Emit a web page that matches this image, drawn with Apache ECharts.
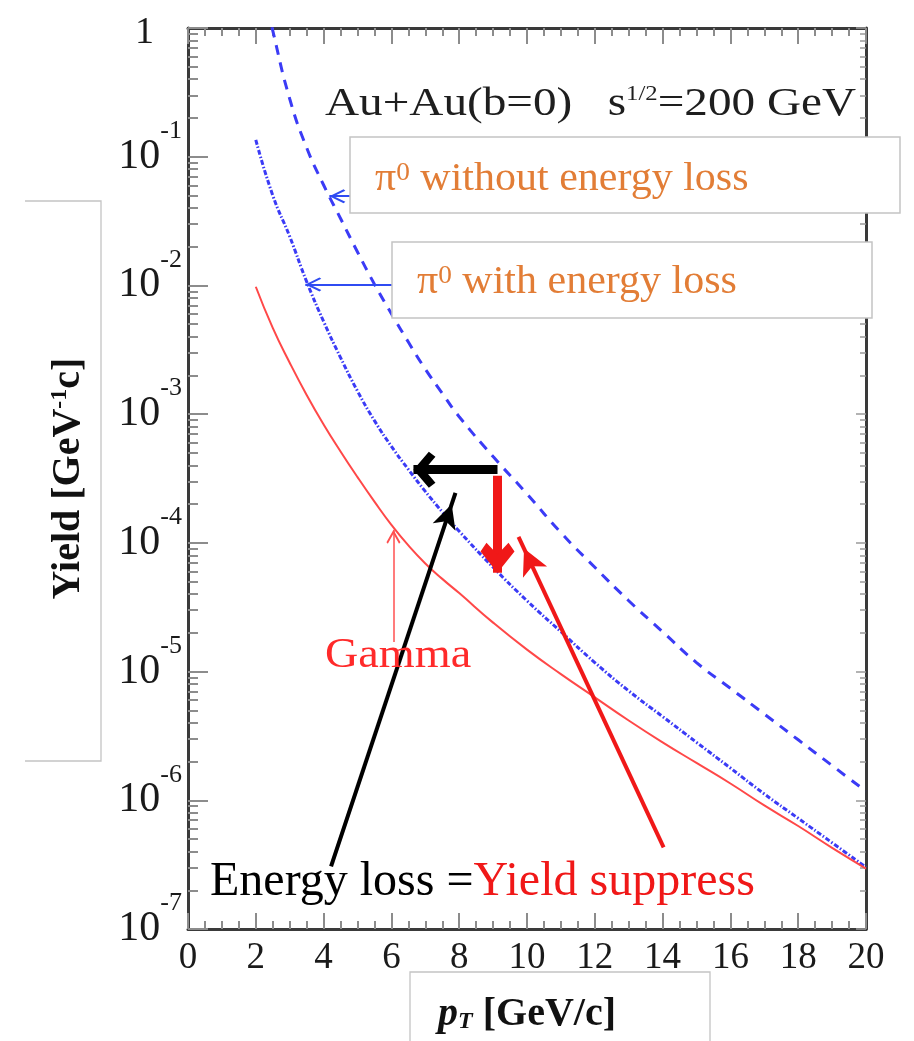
<!DOCTYPE html>
<html>
<head>
<meta charset="utf-8">
<script src="https://cdn.jsdelivr.net/npm/echarts@6/dist/echarts.min.js"></script>
<style>
html,body{margin:0;padding:0;background:#ffffff;}
#chart{width:914px;height:1041px;}
</style>
</head>
<body>
<div id="chart"></div>
<script>
// ---- data ----
const pT = [2, 2.5, 3, 3.5, 4, 4.5, 5, 5.5, 6, 6.5, 7, 7.5, 8, 9, 10, 11, 12, 13, 14, 15, 16, 17, 18, 19, 20];
const yieldNoLoss = [3.55, 0.955, 0.282, 0.1175, 0.0603, 0.0331, 0.0182, 0.01023, 0.00603, 0.00363, 0.00224, 0.00145, 9.55e-4,
  4.68e-4, 2.40e-4, 1.20e-4, 6.46e-5, 3.55e-5, 2.04e-5, 1.175e-5, 7.41e-6, 4.68e-6, 2.95e-6, 1.86e-6, 1.175e-6];
const yieldWithLoss = [0.135, 0.0501, 0.0240, 0.0107, 5.25e-3, 2.75e-3, 1.51e-3, 8.91e-4, 5.62e-4, 3.72e-4, 2.51e-4, 1.74e-4, 1.23e-4,
  6.46e-5, 3.55e-5, 2.04e-5, 1.175e-5, 7.08e-6, 4.47e-6, 2.82e-6, 1.78e-6, 1.12e-6, 7.24e-7, 4.68e-7, 3.02e-7];
const yieldGamma = [9.77e-3, 4.68e-3, 2.51e-3, 1.41e-3, 8.32e-4, 5.13e-4, 3.24e-4, 2.09e-4, 1.38e-4, 9.55e-5, 6.92e-5, 5.25e-5, 4.07e-5,
  2.40e-5, 1.48e-5, 9.55e-6, 6.31e-6, 4.17e-6, 2.82e-6, 1.95e-6, 1.35e-6, 9.12e-7, 6.31e-7, 4.27e-7, 2.95e-7];
const xTickLabels = ['0','2','4','6','8','10','12','14','16','18','20'];
const yTickExponents = [-7, -6, -5, -4, -3, -2, -1, 0];

// annotation arrows: [start pT, start yield, end pT, end yield]
const arrowWithLoss   = [6.03, 0.01019, 3.46, 0.01019];
const arrowNoLoss     = [4.82, 0.0493, 4.17, 0.0493];
const arrowGamma      = [6.06, 1.70e-5, 6.06, 1.262e-4];
const arrowShift      = [9.13, 3.70e-4, 6.65, 3.70e-4];
const arrowSuppress   = [9.13, 3.32e-4, 9.13, 5.85e-5];
const arrowEnergyNote = [4.22, 3.06e-7, 7.89, 2.45e-4];
const arrowYieldNote  = [14.03, 4.31e-7, 9.75, 1.114e-4];

const SERIF = "'Liberation Serif','Times New Roman',serif";
const BLUE = '#3b3bf6';
const ORANGE = '#e27d36';
const RED = '#f01818';

function zip(xs, ys){ return xs.map((x,i)=>[x, ys[i]]); }

const chevronThin = 'path://M10,0 L20,16 L18,18 L10,5 L2,18 L0,16 Z';
const chevronBold = 'path://M18,0 L36,14 L31,20 L18,10 L5,20 L0,14 Z';
const chevronRed  = 'path://M17,0 L34,20 L28,28 L17,17 L6,28 L0,20 Z';

function arrow(a, color, width, symbol, size){
  return [
    {coord:[a[0], a[1]], symbol:'none', lineStyle:{color:color, width:width, type:'solid'}},
    {coord:[a[2], a[3]], symbol:symbol, symbolSize:size, symbolOffset:[0, size[1]/2], lineStyle:{color:color, width:width, type:'solid'}}
  ];
}

const chart = echarts.init(document.getElementById('chart'), null, {renderer:'canvas'});

const baseYLabel = {
  show:true, margin:6, color:'#1a1a1a', fontFamily:SERIF,
  showMinLabel:true, showMaxLabel:true,
  formatter: function(v){
    const e = Math.round(Math.log10(v));
    if (yTickExponents.indexOf(e) < 0) return '';
    return e === 0 ? '{one|1}' : '{b|10}{e|' + e + '}';
  },
  rich:{
    one:{fontSize:38, fontFamily:SERIF, color:'#1a1a1a', padding:[10,28,0,0]},
    b:{fontSize:42, fontFamily:SERIF, color:'#1a1a1a'},
    e:{fontSize:26, fontFamily:SERIF, color:'#1a1a1a', padding:[0,0,51,0]}
  }
};

const option = {
  animation:false,
  backgroundColor:'#ffffff',
  grid:{left:188, right:48, top:28, bottom:112, containLabel:false},
  xAxis:[{
    type:'value', min:0, max:20, interval:2, position:'bottom',
    axisLine:{show:true, onZero:false, lineStyle:{color:'#3a3a3a', width:3}},
    axisTick:{show:true, inside:true, length:16, lineStyle:{color:'#8c8c8c', width:2}},
    minorTick:{show:true, splitNumber:4, length:8, lineStyle:{color:'#8c8c8c', width:2}},
    splitLine:{show:false},
    axisLabel:{show:true, margin:11, fontSize:37, fontFamily:SERIF, color:'#1a1a1a',
      formatter:function(v){ const s = String(Math.round(v)); return xTickLabels.indexOf(s) >= 0 ? s : ''; }},
    name:'{p|p}{t|T}{g| [GeV/c]}', nameLocation:'middle', nameGap:66,
    nameTextStyle:{rich:{
      p:{fontSize:40, fontWeight:'bold', fontStyle:'italic', fontFamily:SERIF, color:'#111'},
      t:{fontSize:24, fontWeight:'bold', fontStyle:'italic', fontFamily:SERIF, color:'#111', padding:[14,0,0,0]},
      g:{fontSize:40, fontWeight:'bold', fontFamily:SERIF, color:'#111'}
    }}
  },{
    type:'value', min:0, max:20, interval:2, position:'top',
    axisLine:{show:true, onZero:false, lineStyle:{color:'#3a3a3a', width:3}},
    axisTick:{show:true, inside:true, length:16, lineStyle:{color:'#8c8c8c', width:2}},
    minorTick:{show:true, splitNumber:4, length:8, lineStyle:{color:'#8c8c8c', width:2}},
    splitLine:{show:false}, axisLabel:{show:false}
  }],
  yAxis:[{
    type:'log', logBase:10, min:1e-7, max:1, position:'left',
    axisLine:{show:true, onZero:false, lineStyle:{color:'#3a3a3a', width:3}},
    axisTick:{show:true, inside:true, length:20, lineStyle:{color:'#8c8c8c', width:2}},
    minorTick:{show:true, splitNumber:9, length:10, lineStyle:{color:'#8c8c8c', width:2}},
    splitLine:{show:false},
    axisLabel:baseYLabel,
    name:'{t|Yield [GeV}{s|-1}{t|c]}', nameLocation:'middle', nameRotate:90, nameGap:98,
    nameTextStyle:{rich:{
      t:{fontSize:40, fontWeight:'bold', fontFamily:SERIF, color:'#111'},
      s:{fontSize:24, fontWeight:'bold', fontFamily:SERIF, color:'#111', padding:[0,0,18,0]}
    }}
  },{
    type:'log', logBase:10, min:1e-7, max:1, position:'right',
    axisLine:{show:true, onZero:false, lineStyle:{color:'#3a3a3a', width:3}},
    axisTick:{show:true, inside:true, length:10, lineStyle:{color:'#9a9a9a', width:1.5}},
    minorTick:{show:true, splitNumber:9, length:6, lineStyle:{color:'#9a9a9a', width:1.5}},
    splitLine:{show:false}, axisLabel:{show:false}
  }],
  series:[
    {
      name:'π0 without energy loss', type:'line', xAxisIndex:0, yAxisIndex:0,
      data:zip(pT, yieldNoLoss), showSymbol:false, symbol:'none', smooth:0.5, clip:true,
      lineStyle:{color:BLUE, width:3, type:[10,8]}, z:3
    },
    {
      name:'π0 with energy loss', type:'line', xAxisIndex:0, yAxisIndex:0,
      data:zip(pT, yieldWithLoss), showSymbol:false, symbol:'none', smooth:0.5, clip:true,
      lineStyle:{color:BLUE, width:3, type:[5,2,1.5,2]}, z:3
    },
    {
      name:'Gamma', type:'line', xAxisIndex:0, yAxisIndex:0,
      data:zip(pT, yieldGamma), showSymbol:false, symbol:'none', smooth:0.5, clip:true,
      lineStyle:{color:'#ff4848', width:2}, z:3,
      markLine:{
        silent:true, animation:false, z:6,
        label:{show:false}, emphasis:{disabled:true},
        data:[
          arrow(arrowWithLoss, '#2f4bf2', 2, chevronThin, [14,16]),
          arrow(arrowNoLoss, '#2f4bf2', 2, chevronThin, [14,16]),
          arrow(arrowGamma, '#ff5050', 1.5, chevronThin, [14,14]),
          arrow(arrowSuppress, RED, 9, chevronRed, [34,30]),
          arrow(arrowShift, '#000000', 9, chevronBold, [36,22]),
          arrow(arrowEnergyNote, '#000000', 4, 'arrow', [18,24]),
          arrow(arrowYieldNote, RED, 4, 'arrow', [20,26])
        ]
      }
    }
  ],
  graphic:[
    {type:'polyline', z:1, silent:true, shape:{points:[[25,201],[101,201],[101,761],[25,761]]},
      style:{stroke:'#c4c4c4', lineWidth:1.3, fill:null}},
    {type:'polyline', z:1, silent:true, shape:{points:[[410,1041],[410,972],[710,972],[710,1041]]},
      style:{stroke:'#c4c4c4', lineWidth:1.3, fill:null}},
    {type:'text', z:100, silent:true, x:325, y:104, scaleX:1.18, style:{
      text:'{a|Au+Au(b=0)   s}{s|1/2}{a|=200 GeV}', verticalAlign:'middle', align:'left',
      rich:{a:{fontSize:40, fontFamily:SERIF, fill:'#1e1e1e'}, s:{fontSize:21, fontFamily:SERIF, fill:'#1e1e1e', padding:[0,0,20,0]}}
    }},
    {type:'rect', z:100, silent:true, shape:{x:350, y:137, width:550, height:76},
      style:{fill:'#ffffff', stroke:'#c4c4c4', lineWidth:1.5}},
    {type:'text', z:101, silent:true, x:375, y:179, scaleX:1.05, style:{
      text:'{p|π}{s|0}{p| without energy loss}', verticalAlign:'middle', align:'left',
      rich:{p:{fontSize:40, fontFamily:SERIF, fill:ORANGE}, s:{fontSize:26, fontFamily:SERIF, fill:ORANGE, padding:[0,0,12,0]}}
    }},
    {type:'rect', z:100, silent:true, shape:{x:392, y:242, width:480, height:76},
      style:{fill:'#ffffff', stroke:'#c4c4c4', lineWidth:1.5}},
    {type:'text', z:101, silent:true, x:417, y:282, scaleX:1.05, style:{
      text:'{p|π}{s|0}{p| with energy loss}', verticalAlign:'middle', align:'left',
      rich:{p:{fontSize:40, fontFamily:SERIF, fill:ORANGE}, s:{fontSize:26, fontFamily:SERIF, fill:ORANGE, padding:[0,0,12,0]}}
    }},
    {type:'text', z:101, silent:true, x:325, y:656, scaleX:1.1, style:{
      text:'Gamma', verticalAlign:'middle', align:'left', fontSize:42, fontFamily:SERIF, fill:'#ff2a2a'
    }},
    {type:'text', z:101, silent:true, x:210, y:882, style:{
      text:'{k|Energy loss =}{r|Yield suppress}', verticalAlign:'middle', align:'left',
      rich:{k:{fontSize:48, fontFamily:SERIF, fill:'#000000'}, r:{fontSize:48, fontFamily:SERIF, fill:RED}}
    }}
  ]
};
chart.setOption(option);
</script>
</body>
</html>
